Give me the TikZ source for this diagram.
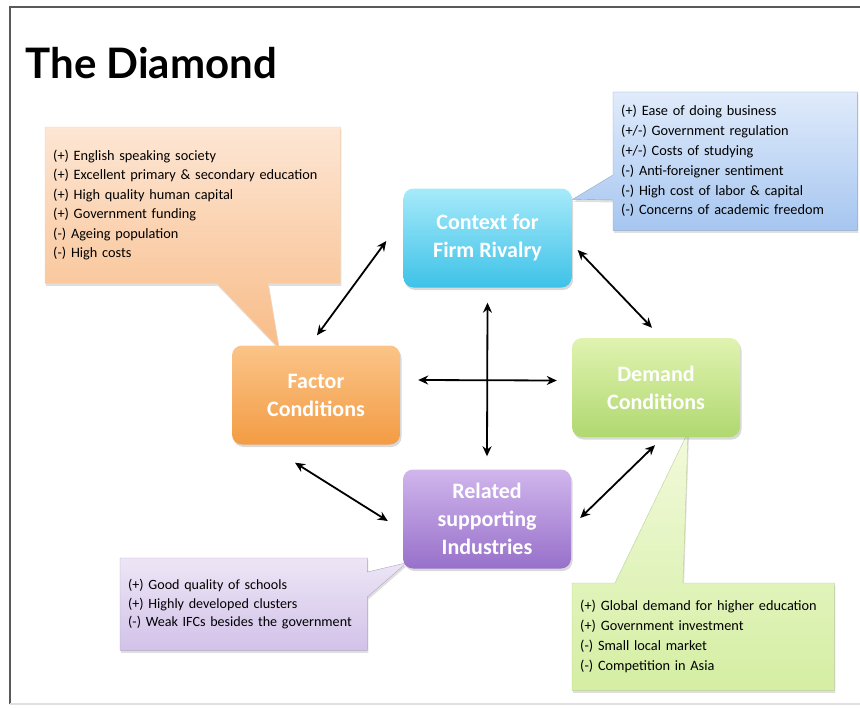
\documentclass[tikz,border=0pt]{standalone}
\usepackage{fontspec}
\setmainfont{Carlito}
\newfontfamily\titlefont{Lato}
\usetikzlibrary{arrows.meta, calc, shadows, backgrounds}

\definecolor{ctxtop}{HTML}{A6EAFA}
\definecolor{ctxbot}{HTML}{3EC2E8}
\definecolor{factop}{HTML}{FBC488}
\definecolor{facbot}{HTML}{F39C44}
\definecolor{demtop}{HTML}{E0F3B0}
\definecolor{dembot}{HTML}{B0D870}
\definecolor{reltop}{HTML}{D0B6EC}
\definecolor{relbot}{HTML}{9870CA}
\definecolor{fnotetop}{HTML}{FDE6D4}
\definecolor{fnotebot}{HTML}{F8BC88}
\definecolor{cnotetop}{HTML}{E0EBFB}
\definecolor{cnotebot}{HTML}{A6C6F0}
\definecolor{rnotetop}{HTML}{EDE6F6}
\definecolor{rnotebot}{HTML}{D2C2E9}
\definecolor{dnotetop}{HTML}{F2FADC}
\definecolor{dnotebot}{HTML}{D4EEA2}

\begin{document}
\begin{tikzpicture}[x=1pt, y=-1pt]
\useasboundingbox (0,0) rectangle (860,709);
% frame
\draw[black!65, line width=1.5pt] (10,704) -- (10,7) -- (860,7);
\draw[black!12, line width=2pt] (10,704) -- (860,704);

\node[anchor=base west, font=\titlefont\bfseries\fontsize{42}{46}\selectfont] (title) at (22,79) {The Diamond};

\begin{scope}[box/.style={rounded corners=10pt, minimum width=168pt, minimum height=99pt,
                  align=center, text=white, font=\bfseries\fontsize{22}{28}\selectfont,
                  drop shadow={opacity=.3, shadow xshift=1.5pt, shadow yshift=-2.5pt}}]
    \node[box, top color=ctxtop, bottom color=ctxbot] (context) at (487.5,238) {Context for\\Firm Rivalry};
    \node[box, top color=factop, bottom color=facbot] (factor) at (316,395) {Factor\\Conditions};
    \node[box, top color=demtop, bottom color=dembot] (demand) at (656,387.5) {Demand\\Conditions};
    \node[box, top color=reltop, bottom color=relbot] (related) at (487,519) {Related\\supporting\\Industries};
\end{scope}

\begin{scope}[note/.style={anchor=north west, align=left, inner xsep=8pt, inner ysep=0pt,
                  text=black, font=\fontsize{14.3}{19.5}\selectfont}]
    \node[note, minimum width=295pt, minimum height=156pt, text width=279pt] (factnote) at (45,127)
        {(+) English speaking society\\
         (+) Excellent primary \& secondary education\\
         (+) High quality human capital\\
         (+) Government funding\\
         (-) Ageing population\\
         (-) High costs};
    \node[note, minimum width=244pt, minimum height=138pt, text width=228pt,
          font=\fontsize{14.3}{19.8}\selectfont] (ctxnote) at (613,92)
        {(+) Ease of doing business\\
         (+/-) Government regulation\\
         (+/-) Costs of studying\\
         (-) Anti-foreigner sentiment\\
         (-) High cost of labor \& capital\\
         (-) Concerns of academic freedom};
    \node[note, minimum width=247pt, minimum height=92pt, text width=231pt,
          font=\fontsize{14.1}{18.5}\selectfont] (relnote) at (120,558)
        {(+) Good quality of schools\\
         (+) Highly developed clusters\\
         (-) Weak IFCs besides the government};
    \node[note, minimum width=262pt, minimum height=107pt, text width=246pt,
          font=\fontsize{14.3}{20}\selectfont] (demnote) at (572,583)
        {(+) Global demand for higher education\\
         (+) Government investment\\
         (-) Small local market\\
         (-) Competition in Asia};
\end{scope}

\begin{scope}[on background layer, line width=0.8pt,
              callout/.style={drop shadow={opacity=.25, shadow xshift=1pt, shadow yshift=-2.5pt}}]
    \draw[callout, draw=fnotebot!70, top color=fnotetop, bottom color=fnotebot] (factnote.north west) -- (factnote.north east)
        -- (factnote.south east) -- ($(factnote.south west)+(223,0)$) -- ($(factor.north)+(-37,3)$)
        -- ($(factnote.south west)+(172,0)$) -- (factnote.south west) -- cycle;
    \draw[callout, draw=cnotebot!80!black!90, top color=cnotetop, bottom color=cnotebot] (ctxnote.north west) -- (ctxnote.north east)
        -- (ctxnote.south east) -- (ctxnote.south west) -- ($(ctxnote.north west)+(0,108)$)
        -- ($(context.north east)+(1,11)$) -- ($(ctxnote.north west)+(0,83)$) -- cycle;
    \draw[callout, draw=rnotebot!80!black!90, top color=rnotetop, bottom color=rnotebot] (relnote.north west) -- (relnote.north east)
        -- ($(relnote.north east)+(0,14)$) -- ($(related.south west)+(4,-6)$) -- ($(relnote.north east)+(0,39)$)
        -- (relnote.south east) -- (relnote.south west) -- cycle;
    \draw[callout, draw=dnotebot!85!black!90, top color=dnotetop, bottom color=dnotebot] (demnote.north west)
        -- ($(demnote.north west)+(43,0)$) -- ($(demand.south)+(32,-5)$) -- ($(demnote.north west)+(111,0)$)
        -- (demnote.north east) -- (demnote.south east) -- (demnote.south west) -- cycle;
\end{scope}

\begin{scope}[>={Stealth[length=10pt, width=9pt]}, line width=1.8pt]
    \path [<->] ($(factor.north)+(1,-10)$) edge ($(context.west)+(-17,3)$);
    \path [<->] ($(context.east)+(6,12)$) edge ($(demand.north)+(-4,-10)$);
    \path [<->] ($(factor.east)+(18,-15)$) edge ($(demand.west)+(-15,-7)$);
    \path [<->] ($(context.south)+(0,15)$) edge ($(related.north)+(0,-13)$);
    \path [<->] ($(factor.south)+(-21,18)$) edge ($(related.west)+(-15,2)$);
    \path [<->] ($(related.east)+(9,-1)$) edge ($(demand.south)+(-1,8)$);
\end{scope}
\end{tikzpicture}
\end{document}
